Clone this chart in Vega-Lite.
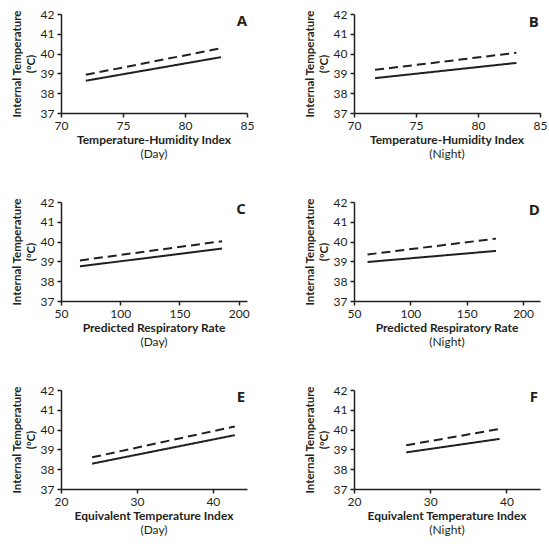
{
  "$schema": "https://vega.github.io/schema/vega-lite/v6.json",
  "background": "white",
  "padding": {"left": 11, "top": 8, "right": 5, "bottom": 5},
  "datasets": {
    "fits": [
      {"panel": "A", "series": "solid", "x": 72.0, "y": 38.63},
      {"panel": "A", "series": "solid", "x": 82.9, "y": 39.82},
      {"panel": "A", "series": "dashed", "x": 72.0, "y": 38.93},
      {"panel": "A", "series": "dashed", "x": 82.9, "y": 40.27},
      {"panel": "B", "series": "solid", "x": 71.7, "y": 38.76},
      {"panel": "B", "series": "solid", "x": 83.1, "y": 39.53},
      {"panel": "B", "series": "dashed", "x": 71.7, "y": 39.18},
      {"panel": "B", "series": "dashed", "x": 83.1, "y": 40.04},
      {"panel": "C", "series": "solid", "x": 66, "y": 38.75},
      {"panel": "C", "series": "solid", "x": 186, "y": 39.65},
      {"panel": "C", "series": "dashed", "x": 66, "y": 39.05},
      {"panel": "C", "series": "dashed", "x": 186, "y": 40.02},
      {"panel": "D", "series": "solid", "x": 62, "y": 38.97},
      {"panel": "D", "series": "solid", "x": 176, "y": 39.53},
      {"panel": "D", "series": "dashed", "x": 62, "y": 39.35},
      {"panel": "D", "series": "dashed", "x": 176, "y": 40.15},
      {"panel": "E", "series": "solid", "x": 24.1, "y": 38.28},
      {"panel": "E", "series": "solid", "x": 42.9, "y": 39.72},
      {"panel": "E", "series": "dashed", "x": 24.1, "y": 38.6},
      {"panel": "E", "series": "dashed", "x": 42.9, "y": 40.16},
      {"panel": "F", "series": "solid", "x": 26.85, "y": 38.85},
      {"panel": "F", "series": "solid", "x": 39.1, "y": 39.53},
      {"panel": "F", "series": "dashed", "x": 26.85, "y": 39.21},
      {"panel": "F", "series": "dashed", "x": 39.1, "y": 40.03}
    ]
  },
  "columns": 2,
  "spacing": {"row": 89, "column": 107},
  "bounds": "flush",
  "concat": [
    {
      "width": 186, "height": 99,
      "title": {"text": "Temperature-Humidity  Index", "subtitle": "(Day)"},
      "layer": [
        {
          "data": {"name": "fits"},
          "transform": [{"filter": "datum.panel === 'A'"}],
          "mark": {"type": "line", "color": "#231f20", "strokeWidth": 2},
          "encoding": {
            "x": {"field": "x", "type": "quantitative", "scale": {"domain": [70, 85], "nice": false, "zero": false}, "axis": {"values": [70, 75, 80, 85], "title": null}},
            "y": {"field": "y", "type": "quantitative", "scale": {"domain": [37, 42], "nice": false, "zero": false}, "axis": {"values": [37, 38, 39, 40, 41, 42], "title": ["Internal Temperature", "(ºC)"]}},
            "strokeDash": {"field": "series", "type": "nominal", "scale": {"domain": ["solid", "dashed"], "range": [[1, 0], [9, 5]]}, "legend": null}
          }
        },
        {
          "data": {"values": [{"label": "A"}]},
          "mark": {"type": "text", "font": "Open Sans", "fontSize": 15, "fontWeight": "bold", "color": "#231f20"},
          "encoding": {
            "x": {"datum": 84.6, "type": "quantitative", "axis": {"values": [70, 75, 80, 85], "title": null}},
            "y": {"datum": 41.63, "type": "quantitative", "axis": {"values": [37, 38, 39, 40, 41, 42], "title": ["Internal Temperature", "(ºC)"]}},
            "text": {"field": "label"}
          }
        }
      ]
    },
    {
      "width": 186, "height": 99,
      "title": {"text": "Temperature-Humidity  Index", "subtitle": "(Night)"},
      "layer": [
        {
          "data": {"name": "fits"},
          "transform": [{"filter": "datum.panel === 'B'"}],
          "mark": {"type": "line", "color": "#231f20", "strokeWidth": 2},
          "encoding": {
            "x": {"field": "x", "type": "quantitative", "scale": {"domain": [70, 85], "nice": false, "zero": false}, "axis": {"values": [70, 75, 80, 85], "title": null}},
            "y": {"field": "y", "type": "quantitative", "scale": {"domain": [37, 42], "nice": false, "zero": false}, "axis": {"values": [37, 38, 39, 40, 41, 42], "title": ["Internal Temperature", "(ºC)"]}},
            "strokeDash": {"field": "series", "type": "nominal", "scale": {"domain": ["solid", "dashed"], "range": [[1, 0], [9, 5]]}, "legend": null}
          }
        },
        {
          "data": {"values": [{"label": "B"}]},
          "mark": {"type": "text", "font": "Open Sans", "fontSize": 15, "fontWeight": "bold", "color": "#231f20"},
          "encoding": {
            "x": {"datum": 84.5, "type": "quantitative", "axis": {"values": [70, 75, 80, 85], "title": null}},
            "y": {"datum": 41.62, "type": "quantitative", "axis": {"values": [37, 38, 39, 40, 41, 42], "title": ["Internal Temperature", "(ºC)"]}},
            "text": {"field": "label"}
          }
        }
      ]
    },
    {
      "width": 186, "height": 99,
      "title": {"text": "Predicted Respiratory Rate", "subtitle": "(Day)"},
      "layer": [
        {
          "data": {"name": "fits"},
          "transform": [{"filter": "datum.panel === 'C'"}],
          "mark": {"type": "line", "color": "#231f20", "strokeWidth": 2},
          "encoding": {
            "x": {"field": "x", "type": "quantitative", "scale": {"domain": [50, 207], "nice": false, "zero": false}, "axis": {"values": [50, 100, 150, 200], "title": null}},
            "y": {"field": "y", "type": "quantitative", "scale": {"domain": [37, 42], "nice": false, "zero": false}, "axis": {"values": [37, 38, 39, 40, 41, 42], "title": ["Internal Temperature", "(ºC)"]}},
            "strokeDash": {"field": "series", "type": "nominal", "scale": {"domain": ["solid", "dashed"], "range": [[1, 0], [9, 5]]}, "legend": null}
          }
        },
        {
          "data": {"values": [{"label": "C"}]},
          "mark": {"type": "text", "font": "Open Sans", "fontSize": 15, "fontWeight": "bold", "color": "#231f20"},
          "encoding": {
            "x": {"datum": 202, "type": "quantitative", "axis": {"values": [50, 100, 150, 200], "title": null}},
            "y": {"datum": 41.63, "type": "quantitative", "axis": {"values": [37, 38, 39, 40, 41, 42], "title": ["Internal Temperature", "(ºC)"]}},
            "text": {"field": "label"}
          }
        }
      ]
    },
    {
      "width": 186, "height": 99,
      "title": {"text": "Predicted Respiratory Rate", "subtitle": "(Night)"},
      "layer": [
        {
          "data": {"name": "fits"},
          "transform": [{"filter": "datum.panel === 'D'"}],
          "mark": {"type": "line", "color": "#231f20", "strokeWidth": 2},
          "encoding": {
            "x": {"field": "x", "type": "quantitative", "scale": {"domain": [50, 215], "nice": false, "zero": false}, "axis": {"values": [50, 100, 150, 200], "title": null}},
            "y": {"field": "y", "type": "quantitative", "scale": {"domain": [37, 42], "nice": false, "zero": false}, "axis": {"values": [37, 38, 39, 40, 41, 42], "title": ["Internal Temperature", "(ºC)"]}},
            "strokeDash": {"field": "series", "type": "nominal", "scale": {"domain": ["solid", "dashed"], "range": [[1, 0], [9, 5]]}, "legend": null}
          }
        },
        {
          "data": {"values": [{"label": "D"}]},
          "mark": {"type": "text", "font": "Open Sans", "fontSize": 15, "fontWeight": "bold", "color": "#231f20"},
          "encoding": {
            "x": {"datum": 210, "type": "quantitative", "axis": {"values": [50, 100, 150, 200], "title": null}},
            "y": {"datum": 41.6, "type": "quantitative", "axis": {"values": [37, 38, 39, 40, 41, 42], "title": ["Internal Temperature", "(ºC)"]}},
            "text": {"field": "label"}
          }
        }
      ]
    },
    {
      "width": 186, "height": 99,
      "title": {"text": "Equivalent Temperature Index", "subtitle": "(Day)"},
      "layer": [
        {
          "data": {"name": "fits"},
          "transform": [{"filter": "datum.panel === 'E'"}],
          "mark": {"type": "line", "color": "#231f20", "strokeWidth": 2},
          "encoding": {
            "x": {"field": "x", "type": "quantitative", "scale": {"domain": [20, 44.5], "nice": false, "zero": false}, "axis": {"values": [20, 30, 40], "title": null}},
            "y": {"field": "y", "type": "quantitative", "scale": {"domain": [37, 42], "nice": false, "zero": false}, "axis": {"values": [37, 38, 39, 40, 41, 42], "title": ["Internal Temperature", "(ºC)"]}},
            "strokeDash": {"field": "series", "type": "nominal", "scale": {"domain": ["solid", "dashed"], "range": [[1, 0], [9, 5]]}, "legend": null}
          }
        },
        {
          "data": {"values": [{"label": "E"}]},
          "mark": {"type": "text", "font": "Open Sans", "fontSize": 15, "fontWeight": "bold", "color": "#231f20"},
          "encoding": {
            "x": {"datum": 43.7, "type": "quantitative", "axis": {"values": [20, 30, 40], "title": null}},
            "y": {"datum": 41.66, "type": "quantitative", "axis": {"values": [37, 38, 39, 40, 41, 42], "title": ["Internal Temperature", "(ºC)"]}},
            "text": {"field": "label"}
          }
        }
      ]
    },
    {
      "width": 186, "height": 99,
      "title": {"text": "Equivalent Temperature Index", "subtitle": "(Night)"},
      "layer": [
        {
          "data": {"name": "fits"},
          "transform": [{"filter": "datum.panel === 'F'"}],
          "mark": {"type": "line", "color": "#231f20", "strokeWidth": 2},
          "encoding": {
            "x": {"field": "x", "type": "quantitative", "scale": {"domain": [20, 44.4], "nice": false, "zero": false}, "axis": {"values": [20, 30, 40], "title": null}},
            "y": {"field": "y", "type": "quantitative", "scale": {"domain": [37, 42], "nice": false, "zero": false}, "axis": {"values": [37, 38, 39, 40, 41, 42], "title": ["Internal Temperature", "(ºC)"]}},
            "strokeDash": {"field": "series", "type": "nominal", "scale": {"domain": ["solid", "dashed"], "range": [[1, 0], [9, 5]]}, "legend": null}
          }
        },
        {
          "data": {"values": [{"label": "F"}]},
          "mark": {"type": "text", "font": "Open Sans", "fontSize": 15, "fontWeight": "bold", "color": "#231f20"},
          "encoding": {
            "x": {"datum": 43.6, "type": "quantitative", "axis": {"values": [20, 30, 40], "title": null}},
            "y": {"datum": 41.66, "type": "quantitative", "axis": {"values": [37, 38, 39, 40, 41, 42], "title": ["Internal Temperature", "(ºC)"]}},
            "text": {"field": "label"}
          }
        }
      ]
    }
  ],
  "config": {
    "font": "Lato",
    "view": {"stroke": null},
    "title": {
      "orient": "bottom",
      "anchor": "middle",
      "font": "Lato",
      "fontSize": 12,
      "fontWeight": "bold",
      "color": "#231f20",
      "offset": 4,
      "subtitleFont": "Lato",
      "subtitleFontSize": 12,
      "subtitleFontWeight": "normal",
      "subtitleColor": "#231f20",
      "subtitlePadding": 2
    },
    "axis": {
      "grid": false,
      "domainColor": "#231f20",
      "domainWidth": 1.5,
      "tickColor": "#231f20",
      "tickWidth": 1.5,
      "tickSize": 4,
      "labelFont": "Lato",
      "labelFontSize": 12,
      "labelColor": "#231f20",
      "labelPadding": 3,
      "labelFlush": false,
      "labelOverlap": false,
      "labelSeparation": 0,
      "titleFont": "Lato",
      "titleFontSize": 11.5,
      "titleFontWeight": "bold",
      "titleColor": "#231f20",
      "titlePadding": 4,
      "titleLineHeight": 14
    }
  }
}
